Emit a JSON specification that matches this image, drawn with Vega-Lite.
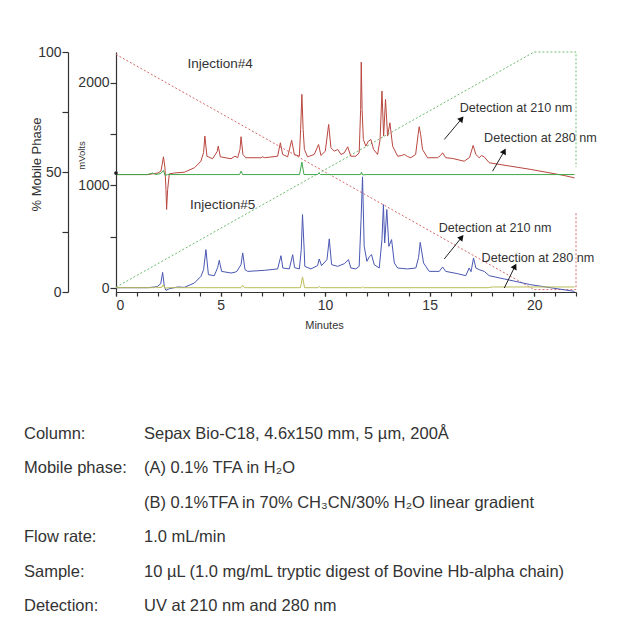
{
  "$schema": "https://vega.github.io/schema/vega-lite/v6.json",
  "background": "white",
  "padding": {"left": 24, "top": 45, "right": 5, "bottom": 5},
  "config": {
    "font": "Liberation Sans",
    "view": {"stroke": null},
    "axis": {"grid": false, "domainColor": "#333", "tickColor": "#333", "labelColor": "#333", "titleColor": "#333", "titleFontWeight": "normal", "domainWidth": 1.2, "tickWidth": 1.2, "labelFont": "Liberation Sans", "titleFont": "Liberation Sans"}
  },
  "datasets": {
    "grad": [
      {"s": "A", "t": 0, "p": 99}, {"s": "A", "t": 20, "p": 1}, {"s": "A", "t": 22, "p": 1}, {"s": "A", "t": 22, "p": 33},
      {"s": "B", "t": 0, "p": 2}, {"s": "B", "t": 20, "p": 100}, {"s": "B", "t": 22, "p": 100}, {"s": "B", "t": 22, "p": 52}
    ],
    "tr": [
      {"s":"r","t":0,"v":1106},{"s":"r","t":1.52,"v":1106},{"s":"r","t":1.84,"v":1116},{"s":"r","t":1.99,"v":1121},{"s":"r","t":2.15,"v":1139},{"s":"r","t":2.27,"v":1279},{"s":"r","t":2.34,"v":1175},{"s":"r","t":2.39,"v":960},{"s":"r","t":2.42,"v":766},{"s":"r","t":2.47,"v":960},{"s":"r","t":2.55,"v":1113},{"s":"r","t":2.79,"v":1121},{"s":"r","t":3.27,"v":1129},{"s":"r","t":3.75,"v":1172},{"s":"r","t":4.06,"v":1236},{"s":"r","t":4.19,"v":1321},{"s":"r","t":4.25,"v":1481},{"s":"r","t":4.35,"v":1285},{"s":"r","t":4.62,"v":1260},{"s":"r","t":4.84,"v":1331},{"s":"r","t":4.89,"v":1383},{"s":"r","t":4.99,"v":1279},{"s":"r","t":5.5,"v":1260},{"s":"r","t":5.69,"v":1285},{"s":"r","t":5.82,"v":1270},{"s":"r","t":5.93,"v":1351},{"s":"r","t":5.98,"v":1475},{"s":"r","t":6.07,"v":1302},{"s":"r","t":6.21,"v":1270},{"s":"r","t":6.93,"v":1270},{"s":"r","t":7.01,"v":1279},{"s":"r","t":7.11,"v":1270},{"s":"r","t":7.73,"v":1285},{"s":"r","t":7.86,"v":1416},{"s":"r","t":7.97,"v":1302},{"s":"r","t":8.21,"v":1279},{"s":"r","t":8.4,"v":1441},{"s":"r","t":8.53,"v":1302},{"s":"r","t":8.77,"v":1285},{"s":"r","t":8.83,"v":1546},{"s":"r","t":8.89,"v":1888},{"s":"r","t":8.95,"v":1546},{"s":"r","t":9.01,"v":1351},{"s":"r","t":9.16,"v":1279},{"s":"r","t":9.48,"v":1302},{"s":"r","t":9.69,"v":1399},{"s":"r","t":9.8,"v":1292},{"s":"r","t":10.01,"v":1334},{"s":"r","t":10.17,"v":1595},{"s":"r","t":10.28,"v":1367},{"s":"r","t":10.44,"v":1334},{"s":"r","t":10.6,"v":1351},{"s":"r","t":10.76,"v":1302},{"s":"r","t":10.92,"v":1318},{"s":"r","t":11.08,"v":1377},{"s":"r","t":11.23,"v":1285},{"s":"r","t":11.47,"v":1285},{"s":"r","t":11.63,"v":1318},{"s":"r","t":11.7,"v":1741},{"s":"r","t":11.73,"v":2203},{"s":"r","t":11.77,"v":1741},{"s":"r","t":11.83,"v":1448},{"s":"r","t":11.95,"v":1383},{"s":"r","t":12.07,"v":1432},{"s":"r","t":12.19,"v":1448},{"s":"r","t":12.32,"v":1351},{"s":"r","t":12.51,"v":1302},{"s":"r","t":12.63,"v":1448},{"s":"r","t":12.72,"v":1920},{"s":"r","t":12.8,"v":1481},{"s":"r","t":12.89,"v":1839},{"s":"r","t":12.99,"v":1481},{"s":"r","t":13.1,"v":1611},{"s":"r","t":13.23,"v":1383},{"s":"r","t":13.47,"v":1285},{"s":"r","t":13.66,"v":1292},{"s":"r","t":13.79,"v":1302},{"s":"r","t":13.94,"v":1282},{"s":"r","t":14.1,"v":1270},{"s":"r","t":14.33,"v":1302},{"s":"r","t":14.45,"v":1497},{"s":"r","t":14.5,"v":1572},{"s":"r","t":14.57,"v":1497},{"s":"r","t":14.66,"v":1351},{"s":"r","t":14.9,"v":1270},{"s":"r","t":15.38,"v":1270},{"s":"r","t":15.52,"v":1292},{"s":"r","t":15.62,"v":1318},{"s":"r","t":15.77,"v":1270},{"s":"r","t":16.1,"v":1263},{"s":"r","t":16.65,"v":1236},{"s":"r","t":16.91,"v":1273},{"s":"r","t":17.08,"v":1390},{"s":"r","t":17.21,"v":1302},{"s":"r","t":17.37,"v":1270},{"s":"r","t":17.48,"v":1292},{"s":"r","t":17.61,"v":1279},{"s":"r","t":17.85,"v":1221},{"s":"r","t":19.84,"v":1156},{"s":"r","t":21.43,"v":1097},{"s":"r","t":21.93,"v":1074},
      {"s":"g","t":0,"v":1106},{"s":"g","t":1.52,"v":1106},{"s":"g","t":1.75,"v":1121},{"s":"g","t":1.9,"v":1106},{"s":"g","t":2.14,"v":1116},{"s":"g","t":2.27,"v":1146},{"s":"g","t":2.35,"v":1097},{"s":"g","t":2.47,"v":1106},{"s":"g","t":5.91,"v":1106},{"s":"g","t":5.98,"v":1139},{"s":"g","t":6.06,"v":1106},{"s":"g","t":8.78,"v":1106},{"s":"g","t":8.89,"v":1227},{"s":"g","t":8.99,"v":1106},{"s":"g","t":9.64,"v":1106},{"s":"g","t":9.71,"v":1122},{"s":"g","t":9.78,"v":1106},{"s":"g","t":11.7,"v":1106},{"s":"g","t":11.74,"v":1129},{"s":"g","t":11.79,"v":1103},{"s":"g","t":12.0,"v":1106},{"s":"g","t":21.93,"v":1106},
      {"s":"b","t":0,"v":3},{"s":"b","t":1.52,"v":3},{"s":"b","t":1.84,"v":10},{"s":"b","t":1.99,"v":16},{"s":"b","t":2.14,"v":42},{"s":"b","t":2.23,"v":152},{"s":"b","t":2.31,"v":16},{"s":"b","t":2.39,"v":-23},{"s":"b","t":2.55,"v":-7},{"s":"b","t":2.95,"v":10},{"s":"b","t":3.27,"v":6},{"s":"b","t":3.75,"v":49},{"s":"b","t":4.06,"v":113},{"s":"b","t":4.19,"v":179},{"s":"b","t":4.3,"v":374},{"s":"b","t":4.42,"v":130},{"s":"b","t":4.7,"v":120},{"s":"b","t":4.86,"v":198},{"s":"b","t":4.94,"v":270},{"s":"b","t":5.05,"v":162},{"s":"b","t":5.5,"v":146},{"s":"b","t":5.69,"v":154},{"s":"b","t":5.78,"v":162},{"s":"b","t":5.98,"v":228},{"s":"b","t":6.06,"v":342},{"s":"b","t":6.17,"v":179},{"s":"b","t":6.3,"v":162},{"s":"b","t":7.09,"v":172},{"s":"b","t":7.73,"v":186},{"s":"b","t":7.89,"v":315},{"s":"b","t":7.98,"v":195},{"s":"b","t":8.29,"v":186},{"s":"b","t":8.45,"v":325},{"s":"b","t":8.54,"v":198},{"s":"b","t":8.77,"v":186},{"s":"b","t":8.86,"v":374},{"s":"b","t":8.92,"v":716},{"s":"b","t":9.0,"v":374},{"s":"b","t":9.03,"v":211},{"s":"b","t":9.32,"v":186},{"s":"b","t":9.64,"v":218},{"s":"b","t":9.72,"v":283},{"s":"b","t":9.83,"v":218},{"s":"b","t":10.09,"v":276},{"s":"b","t":10.2,"v":479},{"s":"b","t":10.31,"v":228},{"s":"b","t":10.6,"v":211},{"s":"b","t":10.92,"v":237},{"s":"b","t":11.12,"v":276},{"s":"b","t":11.23,"v":195},{"s":"b","t":11.47,"v":186},{"s":"b","t":11.63,"v":211},{"s":"b","t":11.72,"v":667},{"s":"b","t":11.79,"v":1084},{"s":"b","t":11.87,"v":406},{"s":"b","t":12.0,"v":260},{"s":"b","t":12.11,"v":303},{"s":"b","t":12.22,"v":325},{"s":"b","t":12.35,"v":228},{"s":"b","t":12.59,"v":195},{"s":"b","t":12.72,"v":472},{"s":"b","t":12.79,"v":813},{"s":"b","t":12.85,"v":439},{"s":"b","t":12.95,"v":765},{"s":"b","t":13.05,"v":406},{"s":"b","t":13.18,"v":472},{"s":"b","t":13.31,"v":244},{"s":"b","t":13.47,"v":195},{"s":"b","t":13.94,"v":186},{"s":"b","t":14.34,"v":195},{"s":"b","t":14.47,"v":296},{"s":"b","t":14.55,"v":445},{"s":"b","t":14.71,"v":244},{"s":"b","t":14.98,"v":162},{"s":"b","t":15.46,"v":162},{"s":"b","t":15.62,"v":205},{"s":"b","t":15.77,"v":162},{"s":"b","t":16.33,"v":140},{"s":"b","t":16.73,"v":120},{"s":"b","t":16.89,"v":195},{"s":"b","t":16.98,"v":159},{"s":"b","t":17.1,"v":293},{"s":"b","t":17.21,"v":195},{"s":"b","t":17.37,"v":179},{"s":"b","t":17.61,"v":162},{"s":"b","t":17.85,"v":120},{"s":"b","t":18.57,"v":88},{"s":"b","t":19.84,"v":32},{"s":"b","t":21.93,"v":-33},
      {"s":"y","t":0,"v":3},{"s":"y","t":1.8,"v":3},{"s":"y","t":1.9,"v":10},{"s":"y","t":2.0,"v":3},{"s":"y","t":2.2,"v":8},{"s":"y","t":2.26,"v":30},{"s":"y","t":2.35,"v":-3},{"s":"y","t":2.5,"v":3},{"s":"y","t":5.98,"v":3},{"s":"y","t":6.06,"v":25},{"s":"y","t":6.14,"v":3},{"s":"y","t":8.82,"v":3},{"s":"y","t":8.92,"v":108},{"s":"y","t":9.02,"v":3},{"s":"y","t":9.66,"v":3},{"s":"y","t":9.72,"v":15},{"s":"y","t":9.79,"v":3},{"s":"y","t":11.74,"v":3},{"s":"y","t":11.79,"v":12},{"s":"y","t":11.84,"v":3},{"s":"y","t":17.8,"v":3},{"s":"y","t":18.0,"v":10},{"s":"y","t":21.93,"v":10}
    ],
    "inj": [
      {"t": 4.98, "v": 2181, "label": "Injection#4"},
      {"t": 5.1, "v": 813, "label": "Injection#5"}
    ],
    "det": [
      {"t": 19.13, "v": 1751, "label": "Detection at 210 nm"},
      {"t": 20.3, "v": 1463, "label": "Detection at 280 nm"},
      {"t": 18.13, "v": 581, "label": "Detection at 210 nm"},
      {"t": 20.18, "v": 297, "label": "Detection at 280 nm"}
    ],
    "arr": [
      {"k": "210", "t1": 15.7, "v1": 1448, "t2": 16.53, "v2": 1650},
      {"k": "280", "t1": 18.01, "v1": 1139, "t2": 18.57, "v2": 1334},
      {"k": "210", "t1": 15.7, "v1": 283, "t2": 16.53, "v2": 494},
      {"k": "280", "t1": 18.57, "v1": 0, "t2": 19.08, "v2": 211}
    ],
    "mark0": [
      {"t": 0, "v": 1121}
    ],
    "info": [
      {"row": 1, "c": "k", "text": "Column:"},
      {"row": 1, "c": "v", "text": "Sepax Bio-C18, 4.6x150 mm, 5 µm, 200Å"},
      {"row": 2, "c": "k", "text": "Mobile phase:"},
      {"row": 2, "c": "v", "text": "(A) 0.1% TFA in H₂O"},
      {"row": 3, "c": "v", "text": "(B) 0.1%TFA in 70% CH₃CN/30% H₂O linear gradient"},
      {"row": 4, "c": "k", "text": "Flow rate:"},
      {"row": 4, "c": "v", "text": "1.0 mL/min"},
      {"row": 5, "c": "k", "text": "Sample:"},
      {"row": 5, "c": "v", "text": "10 µL (1.0 mg/mL tryptic digest of Bovine Hb-alpha chain)"},
      {"row": 6, "c": "k", "text": "Detection:"},
      {"row": 6, "c": "v", "text": "UV at 210 nm and 280 nm"}
    ]
  },
  "columns": 1,
  "spacing": 96,
  "concat": [
    {
      "width": 460,
      "height": 240,
      "resolve": {"scale": {"y": "independent"}, "axis": {"x": "independent"}},
      "layer": [
        {
          "data": {"name": "grad"},
          "mark": {"type": "line", "strokeWidth": 1, "strokeDash": [2, 2]},
          "encoding": {
            "x": {"field": "t", "type": "quantitative", "scale": {"domain": [0, 22], "nice": false},
                  "axis": {"orient": "bottom", "title": null, "values": [0,1,2,3,4,5,6,7,8,9,10,11,12,13,14,15,16,17,18,19,20,21,22], "labels": false, "tickSize": 4}},
            "y": {"field": "p", "type": "quantitative", "scale": {"domain": [0, 100], "nice": false},
                  "axis": {"title": "% Mobile Phase", "orient": "left", "offset": 48, "values": [0, 25, 50, 75, 100], "labelExpr": "datum.value % 50 === 0 ? datum.label : ''", "tickSize": 6, "labelFontSize": 14, "labelPadding": 1, "titleFontSize": 13, "titleX": -25, "titleY": 112}},
            "color": {"field": "s", "type": "nominal", "legend": null, "scale": {"domain": ["A", "B", "r", "g", "b", "y"], "range": ["#d86a6a", "#6cbc6c", "#b9473f", "#3ea84a", "#4a57b3", "#bcbc55"]}}
          }
        },
        {
          "layer": [
            {
              "data": {"name": "tr"},
              "mark": {"type": "line", "strokeWidth": 1},
              "encoding": {
                "x": {"field": "t", "type": "quantitative", "title": "Minutes",
                      "axis": {"orient": "bottom", "title": "Minutes", "values": [0, 5, 10, 15, 20], "domain": false, "tickSize": 4, "labelFontSize": 14, "labelPadding": 2, "titleFontSize": 11, "titlePadding": 7, "titleX": 208}},
                "y": {"field": "v", "type": "quantitative", "title": "mVolts", "scale": {"domain": [-39, 2301], "nice": false, "zero": false},
                      "axis": {"title": "mVolts", "orient": "left", "values": [0, 500, 1000, 1500, 2000], "format": "d", "labelExpr": "datum.value % 1000 === 0 ? datum.label : ''", "tickSize": 6, "labelFontSize": 14, "labelPadding": 1, "titleFontSize": 9.5, "titleX": -30, "titleY": 103}},
                "color": {"field": "s", "type": "nominal", "legend": null, "scale": {"domain": ["A", "B", "r", "g", "b", "y"], "range": ["#d86a6a", "#6cbc6c", "#b9473f", "#3ea84a", "#4a57b3", "#bcbc55"]}}
              }
            },
            {
              "data": {"name": "mark0"},
              "mark": {"type": "point", "shape": "circle", "filled": true, "color": "#222", "opacity": 1, "size": 14},
              "encoding": {
                "x": {"field": "t", "type": "quantitative", "title": "Minutes"},
                "y": {"field": "v", "type": "quantitative", "title": "mVolts"}
              }
            },
            {
              "data": {"name": "inj"},
              "mark": {"type": "text", "fontSize": 13.5, "color": "#333", "baseline": "middle"},
              "encoding": {
                "x": {"field": "t", "type": "quantitative", "title": "Minutes"},
                "y": {"field": "v", "type": "quantitative", "title": "mVolts"},
                "text": {"field": "label"}
              }
            },
            {
              "data": {"name": "det"},
              "mark": {"type": "text", "fontSize": 12.6, "color": "#333", "baseline": "middle"},
              "encoding": {
                "x": {"field": "t", "type": "quantitative", "title": "Minutes"},
                "y": {"field": "v", "type": "quantitative", "title": "mVolts"},
                "text": {"field": "label"}
              }
            },
            {
              "data": {"name": "arr"},
              "mark": {"type": "rule", "color": "#222", "strokeWidth": 1},
              "encoding": {
                "x": {"field": "t1", "type": "quantitative", "title": "Minutes"},
                "y": {"field": "v1", "type": "quantitative", "title": "mVolts"},
                "x2": {"field": "t2"},
                "y2": {"field": "v2"}
              }
            },
            {
              "data": {"name": "arr"},
              "transform": [{"filter": "datum.k === '210'"}],
              "mark": {"type": "point", "shape": "triangle-up", "filled": true, "color": "#111", "opacity": 1, "size": 45, "angle": 40},
              "encoding": {
                "x": {"field": "t2", "type": "quantitative", "title": "Minutes"},
                "y": {"field": "v2", "type": "quantitative", "title": "mVolts"}
              }
            },
            {
              "data": {"name": "arr"},
              "transform": [{"filter": "datum.k === '280'"}],
              "mark": {"type": "point", "shape": "triangle-up", "filled": true, "color": "#111", "opacity": 1, "size": 45, "angle": 28},
              "encoding": {
                "x": {"field": "t2", "type": "quantitative", "title": "Minutes"},
                "y": {"field": "v2", "type": "quantitative", "title": "mVolts"}
              }
            }
          ]
        }
      ]
    },
    {
      "width": 124,
      "height": 172,
      "data": {"name": "info"},
      "mark": {"type": "text", "align": "left", "baseline": "middle", "fontSize": 16.5, "color": "#333"},
      "encoding": {
        "x": {"field": "c", "type": "nominal", "scale": {"type": "point", "padding": 0, "domain": ["k", "v"], "range": [-92, 28]}, "axis": null},
        "y": {"field": "row", "type": "ordinal", "scale": {"type": "point", "padding": 0}, "axis": null},
        "text": {"field": "text"}
      }
    }
  ]
}
